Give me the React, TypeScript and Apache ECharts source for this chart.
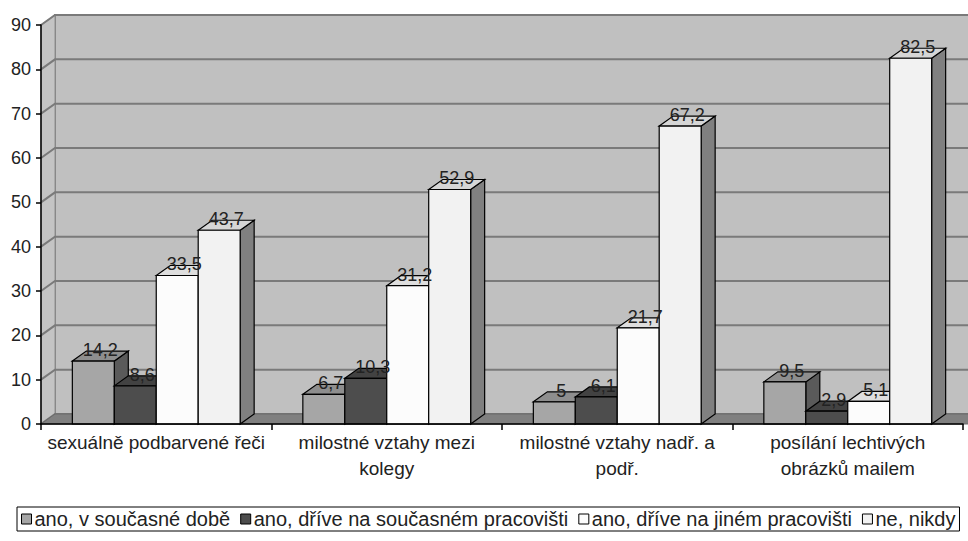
import React, { useEffect, useRef } from "react";
import * as echarts from "echarts";

// Survey categories (x axis)
const categories = [
  "sexuálně podbarvené řeči",
  "milostné vztahy mezi\nkolegy",
  "milostné vztahy nadř. a\npodř.",
  "posílání lechtivých\nobrázků mailem",
];

// Answer groups (series)
const seriesNames = [
  "ano, v současné době",
  "ano, dříve na současném pracovišti",
  "ano, dříve na jiném pracovišti",
  "ne, nikdy",
];

// Percentages per category
const currentlyValues = [14.2, 6.7, 5, 9.5];
const formerSameWorkplaceValues = [8.6, 10.3, 6.1, 2.9];
const formerOtherWorkplaceValues = [33.5, 31.2, 21.7, 5.1];
const neverValues = [43.7, 52.9, 67.2, 82.5];

// Value axis
const yMin = 0;
const yMax = 90;
const yStep = 10;
const yTicks = [0, 10, 20, 30, 40, 50, 60, 70, 80, 90];

const seriesValues = [
  currentlyValues,
  formerSameWorkplaceValues,
  formerOtherWorkplaceValues,
  neverValues,
];

// Face colours of the 3D boxes: front, top, side
const frontColors = ["#a6a6a6", "#4d4d4d", "#fcfcfc", "#f2f2f2"];
const topColors = ["#8e8e8e", "#424242", "#dedede", "#d6d6d6"];
const sideColors = ["#5a5a5a", "#2c2c2c", "#8a8a8a", "#808080"];

// Depth offset of the 3D projection
const DX = 14;
const DY = -10;
const BAR_FRACTION = 0.182;
const FONT = '"Liberation Sans", Arial, sans-serif';

const fmt = (v: number) => String(v).replace(".", ",");

export default function App() {
  const ref = useRef<HTMLDivElement>(null);

  useEffect(() => {
    if (!ref.current) return;
    const chart = echarts.init(ref.current, undefined, { renderer: "svg" });

    const wallSeries = {
      type: "custom",
      name: "walls",
      silent: true,
      z: 1,
      clip: false,
      data: [[0, 0]],
      encode: { x: 0, y: 1 },
      renderItem: (params: any, api: any) => {
        const cs = params.coordSys;
        const left = cs.x;
        const right = cs.x + cs.width + DX + 20;
        const yTop = api.coord([0, yMax])[1];
        const yBase = api.coord([0, yMin])[1];
        const children: any[] = [];
        // back wall
        children.push({
          type: "rect",
          shape: { x: left + DX, y: yTop + DY, width: right - left - DX, height: yBase - yTop },
          style: { fill: "#c0c0c0", stroke: "#808080", lineWidth: 2 },
        });
        // side wall
        children.push({
          type: "polygon",
          shape: {
            points: [
              [left, yTop],
              [left + DX, yTop + DY],
              [left + DX, yBase + DY],
              [left, yBase],
            ],
          },
          style: { fill: "#c4c4c4", stroke: "#909090", lineWidth: 1 },
        });
        // grid lines on both walls
        yTicks.forEach((t) => {
          const y = api.coord([0, t])[1];
          children.push({
            type: "polyline",
            shape: {
              points: [
                [left, y],
                [left + DX, y + DY],
                [right, y + DY],
              ],
            },
            style: { stroke: "#7a7a7a", lineWidth: 2, fill: null },
          });
        });
        // floor
        children.push({
          type: "polygon",
          shape: {
            points: [
              [left, yBase],
              [left + DX, yBase + DY],
              [right, yBase + DY],
              [right, yBase],
            ],
          },
          style: { fill: "#808080", stroke: "#6a6a6a", lineWidth: 1 },
        });
        return { type: "group", children };
      },
    };

    const barSeries = seriesValues.map((values, s) => ({
      type: "custom",
      name: seriesNames[s],
      z: 2,
      clip: false,
      itemStyle: { color: frontColors[s], borderColor: "#000", borderWidth: 1 },
      data: values.map((v, i) => [i, v]),
      encode: { x: 0, y: 1 },
      renderItem: (params: any, api: any) => {
        const cat = api.value(0);
        const v = api.value(1);
        const [cx, yTop] = api.coord([cat, v]);
        const yBase = api.coord([cat, 0])[1];
        const catW = api.size([1, 0])[0];
        const bw = catW * BAR_FRACTION;
        const x0 = cx + (s - 2) * bw;
        const x1 = x0 + bw;
        return {
          type: "group",
          children: [
            {
              type: "polygon",
              shape: {
                points: [
                  [x1, yTop],
                  [x1 + DX, yTop + DY],
                  [x1 + DX, yBase + DY],
                  [x1, yBase],
                ],
              },
              style: { fill: sideColors[s], stroke: "#000", lineWidth: 1.2 },
            },
            {
              type: "polygon",
              shape: {
                points: [
                  [x0, yTop],
                  [x0 + DX, yTop + DY],
                  [x1 + DX, yTop + DY],
                  [x1, yTop],
                ],
              },
              style: { fill: topColors[s], stroke: "#000", lineWidth: 1.2 },
            },
            {
              type: "rect",
              shape: { x: x0, y: yTop, width: bw, height: yBase - yTop },
              style: { fill: frontColors[s], stroke: "#000", lineWidth: 1.2 },
            },
            {
              type: "text",
              z2: 100,
              x: x0 + bw / 2 + DX / 2,
              y: yTop - 11,
              style: {
                text: fmt(v),
                fill: "#222",
                fontSize: 18,
                fontFamily: FONT,
                align: "center",
                verticalAlign: "middle",
              },
            },
          ],
        };
      },
    }));

    chart.setOption({
      animation: false,
      backgroundColor: "#fff",
      grid: { left: 41, right: 5, top: 25, bottom: 117, containLabel: false },
      xAxis: {
        type: "category",
        data: categories,
        z: 3,
        boundaryGap: true,
        axisLine: { lineStyle: { color: "#000", width: 1.5 } },
        axisTick: { show: true, length: 6, lineStyle: { color: "#000", width: 1.5 } },
        axisLabel: {
          interval: 0,
          margin: 5,
          color: "#222",
          fontSize: 19,
          fontFamily: FONT,
          lineHeight: 26,
        },
        splitLine: { show: false },
      },
      yAxis: {
        type: "value",
        min: yMin,
        max: yMax,
        interval: yStep,
        z: 3,
        axisLine: { show: true, lineStyle: { color: "#000", width: 1.5 } },
        axisTick: { show: true, length: 5, lineStyle: { color: "#000", width: 1.5 } },
        axisLabel: { margin: 10, color: "#222", fontSize: 18, fontFamily: FONT },
        splitLine: { show: false },
      },
      legend: {
        data: seriesNames,
        left: 17,
        top: 507,
        padding: [2, 4],
        itemGap: 10,
        itemWidth: 10,
        itemHeight: 10,
        icon: "rect",
        borderColor: "#000",
        borderWidth: 1,
        itemStyle: { borderColor: "#000", borderWidth: 1 },
        textStyle: { color: "#222", fontSize: 20, fontFamily: FONT, padding: [0, 0, 0, -2] },
        selectedMode: false,
      },
      series: [wallSeries, ...barSeries],
    });

    return () => chart.dispose();
  }, []);

  return (
    <div
      ref={ref}
      style={{ position: "fixed", left: 0, top: 0, width: 968, height: 541, background: "#fff" }}
    />
  );
}
